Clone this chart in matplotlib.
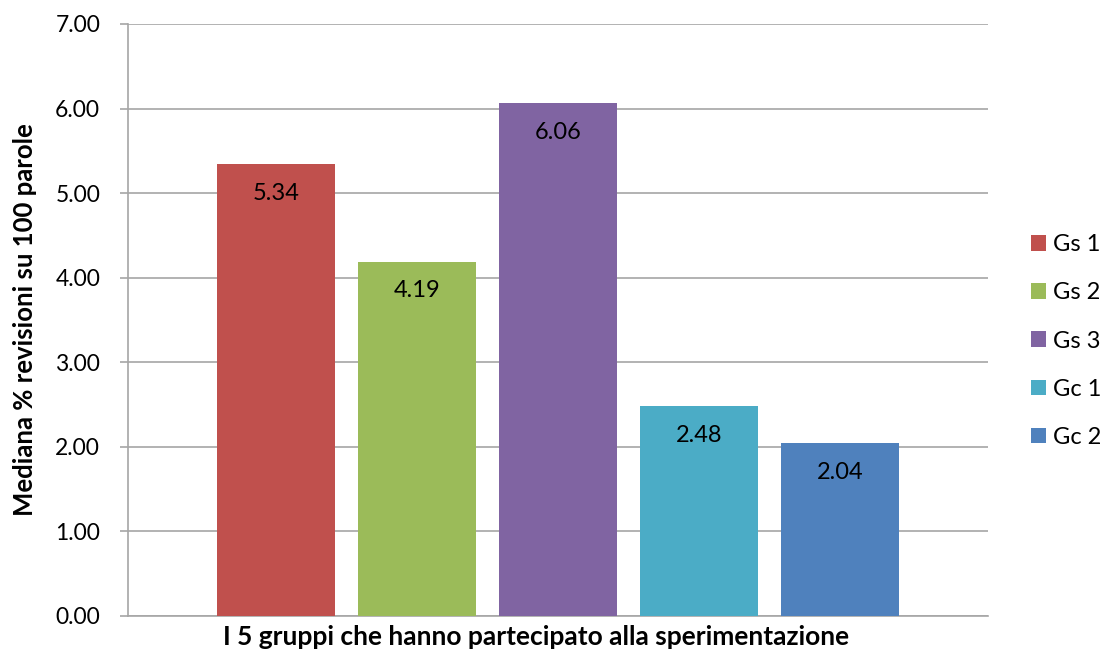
import matplotlib
matplotlib.use("Agg")
import matplotlib.pyplot as plt
from matplotlib.patches import Patch

groups = ["Gs 1", "Gs 2", "Gs 3", "Gc 1", "Gc 2"]
medians = [5.34, 4.19, 6.06, 2.48, 2.04]
colors = ["#C0504D", "#9BBB59", "#8064A2", "#4BACC6", "#4F81BD"]
yticks = [0, 1, 2, 3, 4, 5, 6, 7]

plt.rcParams["font.family"] = ["Lato", "DejaVu Sans"]

W, H = 1102, 649
fig = plt.figure(figsize=(W / 100, H / 100), dpi=100)
ax = fig.add_axes([128 / W, 1 - 616 / H, (988 - 128) / W, (616 - 24) / H])

x = list(range(len(groups)))
bw = 118 / 141
ax.bar(x, medians, width=bw, color=colors, zorder=3)
for xi, v in zip(x, medians):
    ax.annotate(f"{v:.2f}", (xi, v), xytext=(0, -21), textcoords="offset points",
                ha="center", va="center", fontsize=17, color="#000000", zorder=4)

ax.set_xlim(2 - 3.05, 2 + 3.05)
ax.set_ylim(0, 7)
ax.set_yticks(yticks)
ax.set_yticklabels([f"{t:.2f}" for t in yticks], fontsize=16.5)
ax.set_xticks([])
ax.yaxis.grid(True, color="#A6A6A6", linewidth=1.2, zorder=0)
ax.tick_params(axis="y", length=6, color="#A6A6A6", width=1.2, pad=14)
for s in ["top", "right"]:
    ax.spines[s].set_visible(False)
for s in ["left", "bottom"]:
    ax.spines[s].set_color("#A6A6A6")
    ax.spines[s].set_linewidth(1.2)

fig.text(25 / W, 1 - 320 / H, "Mediana % revisioni su 100 parole", rotation=90,
         ha="center", va="center", fontsize=18.5, fontweight="bold")
fig.text(536 / W, 1 - 637 / H, "I 5 gruppi che hanno partecipato alla sperimentazione",
         ha="center", va="center", fontsize=19, fontweight="bold")

handles = [Patch(facecolor=c, label=g) for c, g in zip(colors, groups)]
fig.legend(handles=handles, loc="center left", bbox_to_anchor=(1031 / W, 1 - 341 / H),
           frameon=False, fontsize=17, handlelength=0.64, handleheight=0.64,
           handletextpad=0.3, labelspacing=1.15, borderpad=0, borderaxespad=0)

fig.savefig("out.png", dpi=100)
